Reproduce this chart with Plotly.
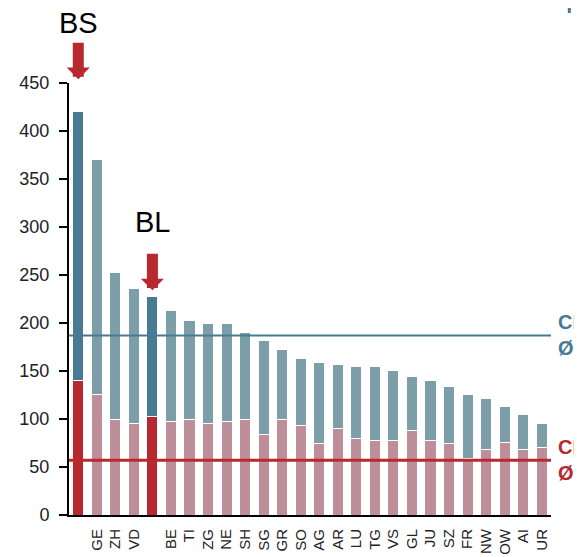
import plotly.graph_objects as go

cantons = ["BS","GE","ZH","VD","BL","BE","TI","ZG","NE","SH","SG","GR","SO",
           "AG","AR","LU","TG","VS","GL","JU","SZ","FR","NW","OW","AI","UR"]
lower = [140,126,99,95,103,97,99,95,97,99,84,99,93,74,90,80,78,78,88,78,74,59,68,76,68,70]
upper = [280,244,154,141,125,116,104,104,102,91,98,73,70,85,67,75,77,73,56,62,60,67,53,37,37,25]
highlight = ["BS", "BL"]
tick_labels = ["" if c in highlight else c for c in cantons]
y_ticks = [0, 50, 100, 150, 200, 250, 300, 350, 400, 450]
ch_avg_upper = 187
ch_avg_lower = 57
arrow_tips = {"BS": 454, "BL": 234}
label_pos = {"BS": 513, "BL": 305}
Y_MAX = 450

C_UP = "#7b9ea8"
C_UP_HI = "#487a93"
C_LO = "#be8f9b"
C_LO_HI = "#b8282f"

lower_colors = [C_LO_HI if c in highlight else C_LO for c in cantons]
upper_colors = [C_UP_HI if c in highlight else C_UP for c in cantons]

fig = go.Figure()
fig.add_trace(go.Bar(x=cantons, y=lower, marker=dict(color=lower_colors, line=dict(color="white", width=1)),
                     hoverinfo="x+y"))
fig.add_trace(go.Bar(x=cantons, y=upper, marker=dict(color=upper_colors, line=dict(color="white", width=1)),
                     hoverinfo="x+y"))

fig.add_shape(type="line", xref="paper", x0=0, x1=1, yref="y", y0=ch_avg_upper, y1=ch_avg_upper,
              line=dict(color=C_UP_HI, width=2), layer="above")
fig.add_shape(type="line", xref="paper", x0=0, x1=1, yref="y", y0=ch_avg_lower, y1=ch_avg_lower,
              line=dict(color=C_LO_HI, width=3), layer="above")
# small fragment at top right
fig.add_shape(type="line", xref="paper", x0=1.038, x1=1.038, yref="paper", y0=1.162, y1=1.195,
              line=dict(color=C_UP_HI, width=3))

annotations = []
for c in highlight:
    annotations.append(dict(x=c, y=arrow_tips[c] / Y_MAX, xref="x", yref="paper", text="", showarrow=True,
                            ax=0, ay=-38, arrowhead=1, arrowwidth=11, arrowsize=0.35,
                            arrowcolor=C_LO_HI))
    annotations.append(dict(x=c, y=label_pos[c] / Y_MAX, xref="x", yref="paper", text=c, showarrow=False,
                            yanchor="middle", font=dict(family="Liberation Sans", size=29, color="black")))
annotations.append(dict(x=1.01, y=ch_avg_upper, xref="paper", yref="y", text="CH<br>Ø", showarrow=False,
                        xanchor="left", yanchor="middle", align="left",
                        font=dict(family="Liberation Sans", size=20, color=C_UP_HI, weight="bold")))
annotations.append(dict(x=1.01, y=ch_avg_lower, xref="paper", yref="y", text="CH<br>Ø", showarrow=False,
                        xanchor="left", yanchor="middle", align="left",
                        font=dict(family="Liberation Sans", size=20, color=C_LO_HI, weight="bold")))

# page body has an 8px margin, so the figure is sized/offset accordingly
fig.update_layout(
    barmode="stack", bargap=0.4, showlegend=False,
    width=574, height=549,
    margin=dict(l=61, r=31, t=75, b=42, autoexpand=False),
    plot_bgcolor="white", paper_bgcolor="white",
    annotations=annotations,
    xaxis=dict(type="category", tickmode="array", tickvals=cantons, ticktext=tick_labels,
               tickangle=-90, ticks="", showgrid=False, showline=True, linecolor="black", linewidth=2,
               tickfont=dict(family="Liberation Sans", size=15, color="#222"), automargin=False,
               ticklabelstandoff=6, range=[-0.5, 25.5]),
    yaxis=dict(range=[0, Y_MAX], tickvals=y_ticks,
               ticks="outside", ticklen=8, tickwidth=1.5, tickcolor="black",
               showgrid=False, zeroline=False, showline=True, linecolor="black", linewidth=2,
               tickfont=dict(family="Liberation Sans", size=18, color="#222"),
               ticklabelstandoff=6, automargin=False),
)

fig.write_html("out.html")
